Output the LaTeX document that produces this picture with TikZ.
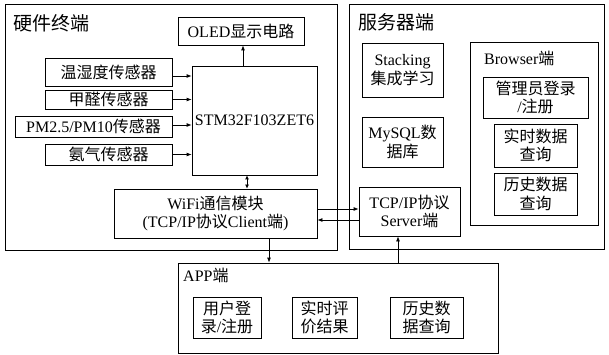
\documentclass[tikz,border=0pt]{standalone}
\usepackage{fontspec}
\setmainfont{Liberation Serif}
\newfontfamily\zhfont{Noto Sans CJK SC}
\newcommand\zh[1]{{\zhfont #1}}
\usetikzlibrary{arrows.meta}

\begin{document}
\begin{tikzpicture}[x=1pt,y=-1pt,
  box/.style={draw, line width=0.8pt, inner sep=0pt, align=center,
    font=\fontsize{16}{18.5}\selectfont},
  frame/.style={draw, line width=0.8pt, inner sep=0pt},
  title/.style={anchor=west, inner sep=0pt, font=\fontsize{19}{21}\selectfont},
  subtitle/.style={anchor=west, inner sep=0pt, font=\fontsize{16}{18}\selectfont},
  arr/.style={line width=0.8pt, -{Latex[length=5pt,width=4pt]}},
  darr/.style={line width=0.8pt, {Latex[length=4pt,width=4pt]}-{Latex[length=4pt,width=4pt]}}]
\useasboundingbox (0,0) rectangle (609,355);

% outer groups
\node[frame, minimum width=332pt, minimum height=246pt] (hw) at (171,127) {};
\node[frame, minimum width=255pt, minimum height=245pt] (sv) at (476.5,126.5) {};
\node[frame, minimum width=320pt, minimum height=90pt] (app) at (338,308) {};
\node[title] (hwt) at (13,23) {\zh{硬件终端}};
\node[title] (svt) at (358,22) {\zh{服务器端}};
\node[subtitle] (appt) at (183,275) {APP\zh{端}};

% hardware terminal
\node[box, minimum width=126pt, minimum height=28pt] (oled) at (241,31) {OLED\zh{显示电路}};
\node[box, minimum width=125pt, minimum height=109pt] (stm) at (254.5,120.5) {STM32F103ZET6};
\node[box, minimum width=127pt, minimum height=28pt] (s1) at (108.5,72) {\zh{温湿度传感器}};
\node[box, minimum width=127pt, minimum height=19pt] (s2) at (108.5,99.5) {\zh{甲醛传感器}};
\node[box, minimum width=157pt, minimum height=21pt] (s3) at (93.5,126.5) {PM2.5/PM10\zh{传感器}};
\node[box, minimum width=127pt, minimum height=21pt] (s4) at (108.5,154.5) {\zh{氨气传感器}};
\node[box, minimum width=203pt, minimum height=49pt] (wifi) at (215.5,213.5)
  {WiFi\zh{通信模块}\\(TCP/IP\zh{协议}Client\zh{端})};

% server side
\node[box, minimum width=81pt, minimum height=54pt] (stack) at (402.5,70) {Stacking\\\zh{集成学习}};
\node[box, minimum width=81pt, minimum height=50pt] (sql) at (402.5,142) {MySQL\zh{数}\\\zh{据库}};
\node[box, minimum width=101pt, minimum height=49pt] (tcp) at (409.5,211.5) {TCP/IP\zh{协议}\\Server\zh{端}};
\node[frame, minimum width=128pt, minimum height=183pt] (br) at (534,133.5) {};
\node[subtitle] (brt) at (484,58) {Browser\zh{端}};
\node[box, minimum width=105pt, minimum height=41pt] (adm) at (535.5,97.5) {\zh{管理员登录}\\/\zh{注册}};
\node[box, minimum width=83pt, minimum height=43pt] (rt) at (535.5,145.5) {\zh{实时数据}\\\zh{查询}};
\node[box, minimum width=83pt, minimum height=42pt] (hist) at (535.5,194) {\zh{历史数据}\\\zh{查询}};

% app side
\node[box, minimum width=68pt, minimum height=41pt] (a1) at (227,317.5) {\zh{用户登}\\\zh{录}/\zh{注册}};
\node[box, minimum width=65pt, minimum height=41pt] (a2) at (324.5,317.5) {\zh{实时评}\\\zh{价结果}};
\node[box, minimum width=73pt, minimum height=41pt] (a3) at (426.5,317.5) {\zh{历史数}\\\zh{据查询}};

% connectors
\draw[arr] ([xshift=-11.5pt]stm.north) -- ([xshift=-11.5pt]stm.north |- oled.south);
\draw[arr] ([yshift=-4pt]s1.east) -- ([yshift=-4pt]s1.east -| stm.west);
\draw[arr] (s2.east) -- (s2.east -| stm.west);
\draw[arr] ([yshift=1.5pt]s3.east) -- ([yshift=1.5pt]s3.east -| stm.west);
\draw[arr] (s4.east) -- (s4.east -| stm.west);
\draw[darr] ([xshift=-7.5pt]stm.south) -- ([xshift=-7.5pt]stm.south |- wifi.north);
\draw[arr] ([yshift=4.5pt]wifi.east) -- ([yshift=4.5pt]wifi.east -| tcp.west);
\draw[arr] ([yshift=-8.5pt]tcp.west) -- ([yshift=-8.5pt]tcp.west -| wifi.east);
\draw[arr] ([xshift=53.5pt]wifi.south) -- ([xshift=53.5pt]wifi.south |- app.north);
\draw[arr] ([xshift=-11.5pt]tcp.south |- app.north) -- ([xshift=-11.5pt]tcp.south);
\end{tikzpicture}
\end{document}
